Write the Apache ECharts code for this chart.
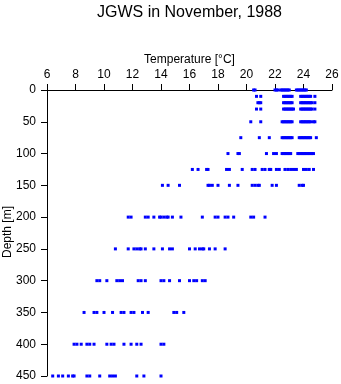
<!DOCTYPE html>
<html>
<head>
<meta charset="utf-8">
<script src="https://cdn.jsdelivr.net/npm/echarts@6/dist/echarts.min.js"></script>
<style>
html,body{margin:0;padding:0;background:#fff;}
#chart{width:341px;height:384px;}
</style>
</head>
<body>
<div id="chart"></div>
<script>
const titleText = "JGWS in November, 1988";
const xName = "Temperature [°C]";
const yName = "Depth [m]";
const xTicks = [6, 8, 10, 12, 14, 16, 18, 20, 22, 24, 26];
const yTicks = [0, 50, 100, 150, 200, 250, 300, 350, 400, 450];

const depths = [0, 10, 20, 30, 50, 75, 100, 125, 150, 200, 250, 300, 350, 400, 450];

const temp0 = [20.5, 20.6, 22.0, 22.1, 22.2, 22.4, 22.5, 22.6, 22.7, 22.8, 22.9, 23.0, 23.5, 23.6, 23.7, 23.8, 23.9, 24.0, 24.1, 24.2];
const temp10 = [20.7, 21.0, 22.6, 22.7, 22.8, 22.9, 23.0, 23.1, 23.2, 23.8, 23.9, 24.0, 24.1, 24.2, 24.3, 24.4, 24.5, 24.8];
const temp20 = [20.8, 20.9, 21.0, 22.6, 22.7, 22.8, 22.9, 23.0, 23.1, 23.2, 23.8, 23.9, 24.0, 24.1, 24.2, 24.3, 24.4, 24.5, 24.6, 24.8];
const temp30 = [20.7, 21.0, 22.6, 22.7, 22.8, 22.9, 23.0, 23.1, 23.2, 23.3, 23.8, 23.9, 24.0, 24.1, 24.2, 24.3, 24.4, 24.5, 24.6, 24.8];
const temp50 = [20.3, 21.0, 22.5, 22.6, 22.7, 22.8, 22.9, 23.0, 23.1, 23.2, 23.8, 23.9, 24.0, 24.1, 24.2, 24.3, 24.4, 24.5, 24.7, 24.8];
const temp75 = [19.6, 20.9, 21.6, 22.5, 22.6, 22.7, 22.8, 22.9, 23.0, 23.1, 23.2, 23.7, 23.8, 23.9, 24.0, 24.1, 24.2, 24.3, 24.4, 24.5, 24.9];
const temp100 = [18.7, 19.4, 19.5, 21.4, 21.9, 22.1, 22.5, 22.6, 22.7, 22.8, 22.9, 23.0, 23.1, 23.6, 23.7, 23.8, 23.9, 24.0, 24.1, 24.2, 24.3, 24.4, 24.5, 24.6, 24.7];
const temp125 = [16.2, 16.6, 17.2, 17.3, 18.6, 18.8, 19.7, 20.4, 20.6, 21.1, 21.3, 21.6, 21.7, 22.1, 22.3, 22.7, 22.9, 23.1, 23.3, 23.5, 24.0, 24.2, 24.4, 24.7];
const temp150 = [14.1, 14.5, 15.3, 17.3, 17.4, 17.6, 18.0, 18.8, 19.4, 20.4, 20.6, 20.8, 20.9, 21.8, 22.1, 23.7, 23.9, 24.0];
const temp200 = [11.7, 11.9, 12.9, 13.1, 13.5, 13.9, 14.0, 14.2, 14.4, 14.5, 14.8, 15.4, 16.9, 17.8, 18.0, 18.5, 18.7, 19.1, 20.3, 20.5, 21.3];
const temp250 = [10.8, 11.7, 12.1, 12.3, 12.5, 12.6, 12.9, 13.5, 14.1, 14.6, 14.8, 16.0, 16.4, 16.7, 16.9, 17.0, 17.4, 17.8, 18.5];
const temp300 = [9.5, 9.7, 10.2, 10.9, 11.1, 11.3, 12.4, 12.6, 12.9, 14.0, 14.2, 14.6, 15.3, 16.0, 16.3, 16.5, 16.9, 17.1];
const temp350 = [8.6, 9.3, 9.5, 10.0, 10.6, 11.2, 11.4, 11.9, 12.1, 12.7, 13.1, 14.9, 15.1, 15.6];
const temp400 = [7.9, 8.1, 8.4, 8.8, 9.0, 9.3, 10.2, 10.5, 10.7, 11.4, 11.9, 12.3, 12.6, 14.0, 14.2];
const temp450 = [6.4, 6.8, 7.1, 7.5, 7.8, 7.9, 8.8, 9.0, 9.7, 10.4, 10.6, 10.8, 12.3, 12.8, 14.0];

const tempRows = [temp0, temp10, temp20, temp30, temp50, temp75, temp100, temp125, temp150, temp200, temp250, temp300, temp350, temp400, temp450];

const points = [];
tempRows.forEach((row, i) => row.forEach(t => points.push([t, depths[i]])));

const FONT = "Liberation Sans, Arial, sans-serif";
const chart = echarts.init(document.getElementById('chart'), null, {renderer: 'canvas'});
chart.setOption({
  animation: false,
  backgroundColor: '#fff',
  title: {
    text: titleText,
    left: 92, top: 0,
    textStyle: {fontFamily: FONT, fontSize: 16, fontWeight: 'normal', color: '#000'}
  },
  graphic: [{
    type: 'text',
    x: 8, y: 232,
    rotation: Math.PI / 2,
    style: {
      text: yName,
      fontFamily: FONT, fontSize: 12, fill: '#000',
      align: 'center', verticalAlign: 'middle'
    },
    silent: true
  }],
  grid: {left: 47, right: 9, top: 90, bottom: 8, containLabel: false, outerBoundsMode: 'none'},
  xAxis: {
    type: 'value', position: 'top',
    min: xTicks[0], max: xTicks[xTicks.length - 1], interval: 2,
    name: xName, nameLocation: 'middle', nameGap: 24, nameMoveOverlap: false,
    nameTextStyle: {fontFamily: FONT, fontSize: 12, color: '#000'},
    axisLine: {show: true, lineStyle: {color: '#000', width: 1}},
    axisTick: {show: true, inside: false, length: 6, lineStyle: {color: '#000'}},
    axisLabel: {fontFamily: FONT, fontSize: 12, color: '#000', margin: 9},
    splitLine: {show: false}
  },
  yAxis: {
    type: 'value', inverse: true,
    min: yTicks[0], max: yTicks[yTicks.length - 1], interval: 50,
    axisLine: {show: true, lineStyle: {color: '#000', width: 1}},
    axisTick: {show: true, length: 6, lineStyle: {color: '#000'}},
    axisLabel: {fontFamily: FONT, fontSize: 12, color: '#000', margin: 11},
    splitLine: {show: false}
  },
  series: [{
    type: 'scatter',
    data: points,
    symbol: 'rect',
    symbolSize: [3, 3],
    itemStyle: {color: '#0000ff', opacity: 1},
    silent: true
  }]
});
</script>
</body>
</html>
